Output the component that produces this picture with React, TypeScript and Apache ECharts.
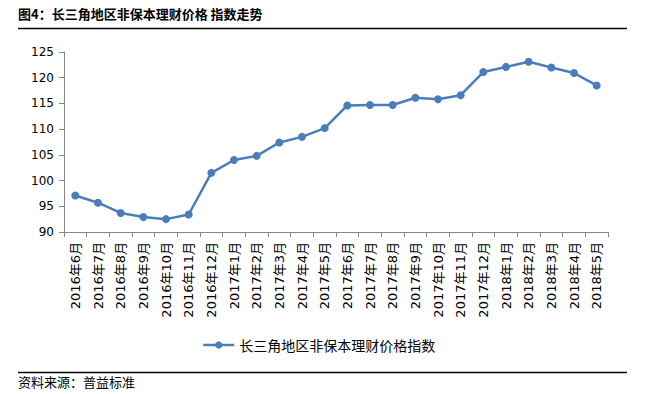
import React, { useEffect, useRef } from "react";
import * as echarts from "echarts";

const categories = [
  "2016年6月", "2016年7月", "2016年8月", "2016年9月", "2016年10月", "2016年11月",
  "2016年12月", "2017年1月", "2017年2月", "2017年3月", "2017年4月", "2017年5月",
  "2017年6月", "2017年7月", "2017年8月", "2017年9月", "2017年10月", "2017年11月",
  "2017年12月", "2018年1月", "2018年2月", "2018年3月", "2018年4月", "2018年5月",
];
const values = [
  97.1, 95.7, 93.7, 92.9, 92.5, 93.4, 101.5, 104.0, 104.8, 107.4, 108.5, 110.2,
  114.6, 114.7, 114.7, 116.1, 115.8, 116.6, 121.1, 122.1, 123.1, 122.0, 120.9, 118.5,
];
const seriesName = "长三角地区非保本理财价格指数";
const titleText = "图4：长三角地区非保本理财价格 指数走势";
const sourceText = "资料来源：普益标准";
const yMin = 90;
const yMax = 125;
const yInterval = 5;

const FONT = "'DejaVu Sans', 'Noto Sans CJK SC', sans-serif";
const CJK = "'Noto Sans CJK SC', sans-serif";

export default function App() {
  const ref = useRef<HTMLDivElement>(null);
  useEffect(() => {
    if (!ref.current) return;
    const chart = echarts.init(ref.current, undefined, { renderer: "svg" });
    chart.setOption({
      animation: false,
      backgroundColor: "#ffffff",
      grid: { left: 64, right: 38, top: 52, bottom: 162, containLabel: false },
      legend: {
        data: [seriesName],
        left: 202,
        top: 338,
        padding: 0,
        itemWidth: 31,
        itemHeight: 9,
        itemGap: 10,
        itemStyle: { color: "#4a7ebb" },
        lineStyle: { color: "#4a7ebb", width: 2.5 },
        textStyle: { fontFamily: CJK, fontSize: 14, color: "#000000", padding: [0, 0, 0, 0] },
      },
      xAxis: {
        type: "category",
        data: categories,
        boundaryGap: true,
        axisLine: { lineStyle: { color: "#868686", width: 1 } },
        axisTick: { show: true, length: 5, alignWithLabel: false, lineStyle: { color: "#868686" } },
        axisLabel: {
          interval: 0,
          rotate: 90,
          margin: 10,
          fontFamily: FONT,
          fontSize: 13,
          color: "#000000",
        },
        splitLine: { show: false },
      },
      yAxis: {
        type: "value",
        min: yMin,
        max: yMax,
        interval: yInterval,
        axisLine: { show: true, lineStyle: { color: "#868686", width: 1 } },
        axisTick: { show: true, length: 5, lineStyle: { color: "#868686" } },
        axisLabel: { fontFamily: FONT, fontSize: 12, color: "#000000", margin: 10 },
        splitLine: { show: false },
      },
      series: [
        {
          name: seriesName,
          type: "line",
          data: values,
          symbol: "circle",
          symbolSize: 8,
          lineStyle: { color: "#4a7ebb", width: 2.5 },
          itemStyle: { color: "#4a7ebb" },
        },
      ],
      graphic: [
        {
          type: "text",
          left: 18,
          top: 7,
          style: { text: titleText, fontFamily: CJK, fontSize: 13, fontWeight: "bold", fill: "#000000" },
        },
        {
          type: "line",
          shape: { x1: 18, y1: 28.5, x2: 627, y2: 28.5 },
          style: { stroke: "#000000", lineWidth: 1.3 },
        },
        {
          type: "line",
          shape: { x1: 18, y1: 372.5, x2: 627, y2: 372.5 },
          style: { stroke: "#000000", lineWidth: 1.3 },
        },
        {
          type: "text",
          left: 18,
          top: 375,
          style: { text: sourceText, fontFamily: CJK, fontSize: 13, fill: "#000000" },
        },
      ],
    });
    return () => chart.dispose();
  }, []);
  return <div ref={ref} style={{ width: 646, height: 394, position: "absolute", left: 0, top: 0 }} />;
}
